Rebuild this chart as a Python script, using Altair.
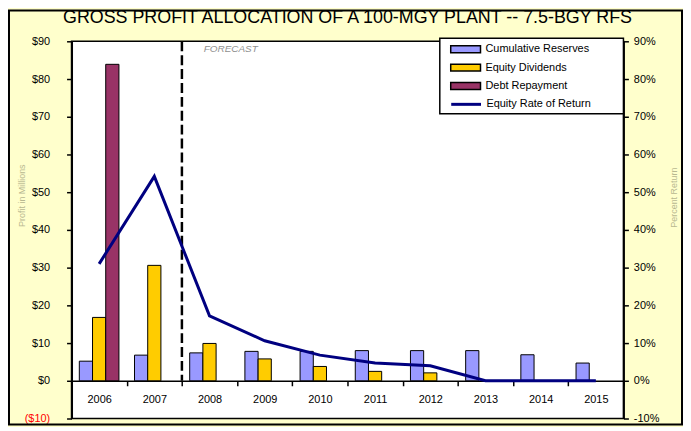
import altair as alt
import pandas as pd

years = ["2006", "2007", "2008", "2009", "2010", "2011", "2012", "2013", "2014", "2015"]
reserves = [5.2, 6.8, 7.4, 7.8, 7.8, 8.0, 8.0, 8.0, 6.9, 4.7]
dividends = [16.8, 30.6, 9.9, 5.8, 3.8, 2.5, 2.1, 0, 0, 0]
debt = [83.9, 0, 0, 0, 0, 0, 0, 0, 0, 0]
ror = [31, 54.2, 17.2, 10.6, 6.8, 4.7, 4.0, 0, 0, 0]
tick_values = [-10, 0, 10, 20, 30, 40, 50, 60, 70, 80, 90]

series = ["Cumulative Reserves", "Equity Dividends", "Debt Repayment"]
colors = ["#9999FF", "#FFCC00", "#993366"]
line_name = "Equity Rate of Return"
line_color = "#000080"

rows = []
for name, vals in zip(series, [reserves, dividends, debt]):
    for y, v in zip(years, vals):
        if v > 0:
            rows.append({"year": y, "series": name, "value": v})
bars_df = pd.DataFrame(rows)
line_df = pd.DataFrame({"year": years, "ror": ror, "s": [line_name] * len(years)})
fc_df = pd.DataFrame({"year": ["2008"], "top": [90], "bottom": [0], "label": ["FORECAST"]})

FONT = "Liberation Sans"

x_axis = alt.Axis(
    title=None, orient="bottom", offset=-38, labelAngle=0, tickBand="extent",
    domainColor="black", domainWidth=1.5, tickColor="black", tickWidth=1.5, tickSize=5,
    labelPadding=8, labelFontSize=11, labelColor="black", labelFont=FONT,
)
xs = alt.X("year:N", title=None, axis=x_axis, sort=years,
           scale=alt.Scale(domain=years, paddingInner=0, paddingOuter=0))

yscale = alt.Scale(domain=[-10, 90], nice=False, zero=False)
left_axis = alt.Axis(
    title="Profit in Millions", values=tick_values, labelOverlap=False,
    labelExpr="datum.value < 0 ? '($' + abs(datum.value) + ')' : '$' + datum.value",
    labelColor={"condition": {"test": "datum.value < 0", "value": "#FF0000"}, "value": "black"},
    labelFontSize=11, labelFont=FONT, labelPadding=17,
    domainColor="black", domainWidth=2, tickColor="black", tickWidth=1.5, tickSize=5,
    grid=False, titleColor="#B8B890", titleFontSize=9, titleFontWeight="normal", titleFont=FONT,
    titleAngle=270, titleX=-50, titleY=155, titleAlign="center", titleBaseline="middle",
)

bars = alt.Chart(bars_df).mark_bar(stroke="black", strokeWidth=1).encode(
    x=xs,
    xOffset=alt.XOffset("series:N", sort=series,
                        scale=alt.Scale(domain=series, paddingInner=0, paddingOuter=0.59)),
    y=alt.Y("value:Q", scale=yscale, axis=left_axis, title="Profit in Millions"),
    fill=alt.Fill("series:N", sort=series, scale=alt.Scale(domain=series, range=colors),
                  legend=alt.Legend(
                      title=None, orient="none", legendX=388.5, legendY=-0.5, padding=0,
                      symbolType="M-2,-0.46H2V0.46H-2Z", symbolSize=225,
                      symbolStrokeColor="black", symbolStrokeWidth=1.5, symbolOpacity=1,
                      labelFontSize=11, labelFont=FONT, labelColor="black", rowPadding=3.5,
                      labelOffset=11.5, labelLimit=200,
                  )),
)

rule = alt.Chart(fc_df).mark_rule(color="black", strokeWidth=2.5, strokeDash=[10, 4]).encode(
    x=alt.X("year:N", bandPosition=0, title=None, sort=years),
    y=alt.Y("top:Q", scale=yscale, axis=left_axis, title="Profit in Millions"),
    y2="bottom:Q",
)
fc_text = alt.Chart(fc_df).mark_text(
    align="left", baseline="middle", dx=22, dy=8, fontStyle="italic",
    fontSize=10, color="#909090", font=FONT,
).encode(
    x=alt.X("year:N", bandPosition=0, title=None, sort=years),
    y=alt.Y("top:Q", scale=yscale, axis=left_axis, title="Profit in Millions"),
    text="label:N",
)

left = alt.layer(bars, rule, fc_text)

line = alt.Chart(line_df).mark_line(strokeWidth=3).encode(
    x=alt.X("year:N", title=None, sort=years),
    y=alt.Y("ror:Q", scale=alt.Scale(domain=[-10, 90], nice=False, zero=False), axis=alt.Axis(
        title="Percent Return", orient="right", values=tick_values,
        labelOverlap=False,
        labelExpr="datum.value + '%'", labelFontSize=11, labelFont=FONT, labelColor="black",
        labelPadding=5, domainColor="black", domainWidth=2, tickColor="black", tickWidth=1.5,
        tickSize=5, grid=False, titleColor="#B8B890", titleFontSize=9, titleFontWeight="normal",
        titleFont=FONT, titleAngle=270, titleX=50, titleY=157, titleAlign="center",
        titleBaseline="middle",
    )),
    stroke=alt.Stroke("s:N", scale=alt.Scale(domain=[line_name], range=[line_color]),
                      legend=alt.Legend(
                          title=None, orient="none", legendX=388.5, legendY=54.5, padding=0,
                          symbolType="M-2,0H2", symbolSize=225, symbolStrokeWidth=3,
                          labelFontSize=11, labelFont=FONT, labelColor="black",
                          labelOffset=11.5, labelLimit=200,
                      )),
)

box = alt.Chart(pd.DataFrame({"k": [0]})).mark_rect(
    fill="white", stroke="black", strokeWidth=1.5
).encode(x=alt.value(371), x2=alt.value(556), y=alt.value(-3), y2=alt.value(73))

frame = alt.Chart(pd.DataFrame({"k": [0]})).mark_rect(
    fill=None, stroke="black", strokeWidth=2
).encode(x=alt.value(-63), x2=alt.value(615), y=alt.value(-31), y2=alt.value(386))

chart = alt.layer(left, line, box, frame).resolve_scale(y="independent").properties(
    width=556, height=380,
    autosize=alt.AutoSizeParams(type="none"),
    padding={"left": 64, "top": 32, "right": 60, "bottom": 7},
    background="#FFFFCC",
    title=alt.TitleParams(
        "GROSS PROFIT ALLOCATION OF A 100-MGY PLANT -- 7.5-BGY RFS",
        fontSize=18, font=FONT, fontWeight="normal", color="black", offset=0, dy=32,
        baseline="alphabetic",
    ),
).configure_view(stroke="black", strokeWidth=1.5, fill="white")

chart.save("out.html", embed_options={"renderer": "svg", "actions": False})
